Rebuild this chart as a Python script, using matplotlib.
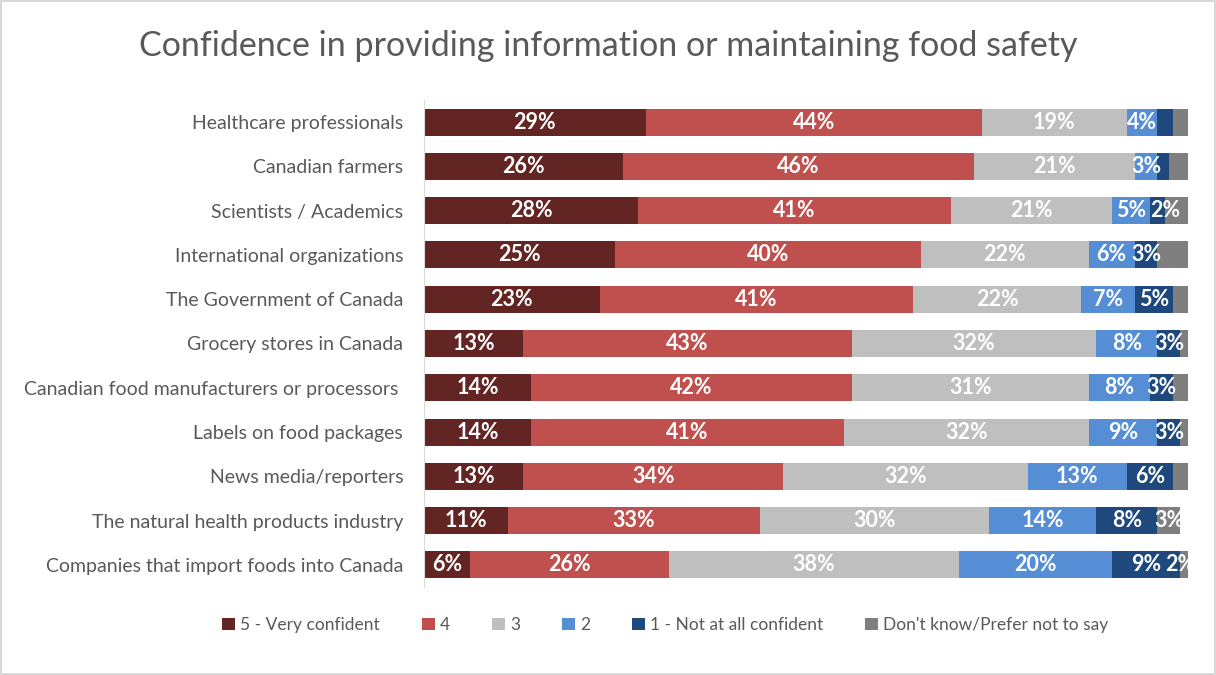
import matplotlib.pyplot as plt

plt.rcParams["font.family"] = ["Lato", "DejaVu Sans"]

# Sources people were asked about, top row first
sources = [
    "Healthcare professionals",
    "Canadian farmers",
    "Scientists / Academics",
    "International organizations",
    "The Government of Canada",
    "Grocery stores in Canada",
    "Canadian food manufacturers or processors ",
    "Labels on food packages",
    "News media/reporters",
    "The natural health products industry",
    "Companies that import foods into Canada",
]

# Share of respondents (%) for each answer
very_confident = [29, 26, 28, 25, 23, 13, 14, 14, 13, 11, 6]
score_4 = [44, 46, 41, 40, 41, 43, 42, 41, 34, 33, 26]
score_3 = [19, 21, 21, 22, 22, 32, 31, 32, 32, 30, 38]
score_2 = [4, 3, 5, 6, 7, 8, 8, 9, 13, 14, 20]
not_confident = [2, 1.5, 2, 3, 5, 3, 3, 3, 6, 8, 9]
dont_know = [2, 2.5, 3, 4, 2, 1, 2, 1, 2, 3, 2]

series = [
    ("5 - Very confident", very_confident, "#632523"),
    ("4", score_4, "#c0504d"),
    ("3", score_3, "#bfbfbf"),
    ("2", score_2, "#558ed5"),
    ("1 - Not at all confident", not_confident, "#1f497d"),
    ("Don't know/Prefer not to say", dont_know, "#7f7f7f"),
]

# Slivers too thin to carry a printed percentage
no_label = {
    "1 - Not at all confident": [0, 1],
    "Don't know/Prefer not to say": [0, 1, 2, 3, 4, 5, 6, 7, 8],
}
# A few labels pushed sideways so neighbours don't collide
label_shift = {
    ("1 - Not at all confident", 2): 1.0,
    ("Don't know/Prefer not to say", 10): -1.0,
}

fig = plt.figure(figsize=(12.16, 6.75), dpi=100)
fig.patch.set_edgecolor("#d9d9d9")
fig.patch.set_linewidth(1.5)
ax = fig.add_axes([0.3487, 0.1304, 0.6283, 0.7215])

rows = list(range(len(sources)))
left = [0] * len(sources)
for name, values, color in series:
    bars = ax.barh(rows, values, left=left, height=0.61, color=color, label=name)
    hidden = no_label.get(name, [])
    for i, (bar, v) in enumerate(zip(bars, values)):
        if i in hidden:
            continue
        x = bar.get_x() + bar.get_width() / 2 + label_shift.get((name, i), 0)
        ax.text(x, i, f"{v:g}%", ha="center", va="center", color="white",
                fontsize=15.5, fontweight="bold")
    left = [a + b for a, b in zip(left, values)]

ax.set_xlim(0, 100)
ax.set_ylim(len(sources) - 0.5, -0.5)
ax.set_yticks(rows)
ax.set_yticklabels(sources, fontsize=14, color="#595959")
ax.tick_params(axis="y", length=0, pad=15)
ax.set_xticks([])
for side in ["top", "right", "bottom"]:
    ax.spines[side].set_visible(False)
ax.spines["left"].set_color("#d9d9d9")

fig.suptitle("Confidence in providing information or maintaining food safety",
             y=0.955, fontsize=24.5, color="#595959")

fig.legend(loc="center", bbox_to_anchor=(0.547, 0.074), ncol=6, frameon=False,
           fontsize=12.5, labelcolor="#595959", handlelength=0.75,
           handleheight=0.75, handletextpad=0.3, columnspacing=2.4)

fig.savefig("out.png", dpi=100)
